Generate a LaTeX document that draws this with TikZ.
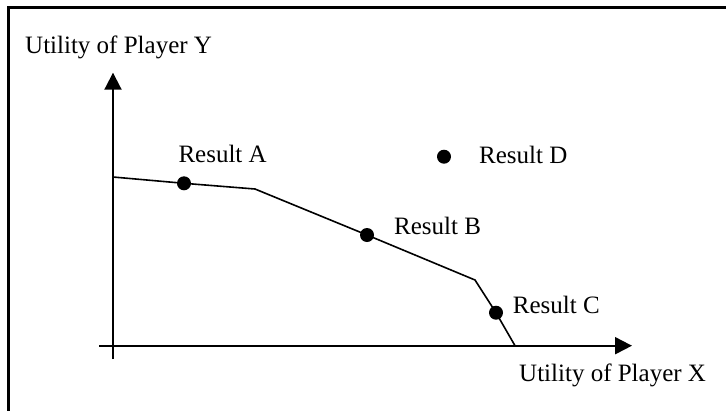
\documentclass[tikz,border=0pt]{standalone}
\usepackage{fontspec}
\setmainfont{Liberation Serif}
\usetikzlibrary{arrows.meta}
\begin{document}
\begin{tikzpicture}[x=1pt,y=-1pt,
  lbl/.style={anchor=base west,inner sep=0pt,font=\fontsize{25}{30}\selectfont},
  dot/.style={circle,fill=black,inner sep=0pt,minimum size=14pt},
  axis/.style={line width=2pt,-{Triangle[length=17pt,width=17pt]}},
  frontier/.style={line width=1.6pt,line join=miter}]
\useasboundingbox (0,0) rectangle (726,410);
\clip (0,0) rectangle (726,410);
% outer frame
\draw[line width=2.6pt] (8.5,7.5) rectangle (800,480);
% axes
\coordinate (yb) at (113,359);
\coordinate (yt) at (113,72.7);
\coordinate (xl) at (99,345.7);
\coordinate (xr) at (632,345.7);
\draw[axis] (yb) -- (yt);
\draw[axis] (xl) -- (xr);
% outcome points
\node[dot] (A) at (184,183.3) {};
\node[dot] (B) at (367,235) {};
\node[dot] (C) at (496,312.7) {};
\node[dot] (D) at (444,156.7) {};
% frontier
\coordinate (ys) at (113,177);
\coordinate (k1) at (255,189);
\coordinate (k2) at (475,280);
\coordinate (xe) at (515,345.7);
\draw[frontier] (ys) -- (A.center) -- (k1) -- (B.center) -- (k2) -- (C.center) -- (xe);
% labels
\node[lbl] (ly) at (25,53) {Utility of Player Y};
\node[lbl] (lx) at (519,381.7) {Utility of Player X};
\node[lbl] (la) at (178.3,162.3) {Result A};
\node[lbl] (lb) at (394,234.3) {Result B};
\node[lbl] (lc) at (512.7,313.3) {Result C};
\node[lbl] (ld) at (479,163.3) {Result D};
\end{tikzpicture}
\end{document}
